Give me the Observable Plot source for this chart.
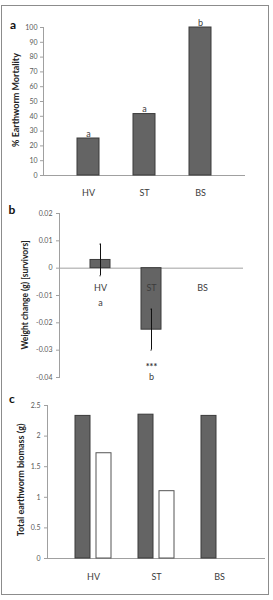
<!DOCTYPE html>
<html><head><meta charset="utf-8">
<script src="https://cdn.jsdelivr.net/npm/d3@7"></script>
<script src="https://cdn.jsdelivr.net/npm/@observablehq/plot@0.6"></script>
<style>
body{margin:0;background:#fff;font-family:Lato,"Open Sans",sans-serif;}
#wrap{position:relative;width:273px;height:600px;overflow:hidden;}
#box{position:absolute;left:1px;top:5px;width:266px;height:588px;border:1px solid #8c8c8c;}
.p{position:absolute;left:0;}
.p svg{overflow:visible;}
.lbl{position:absolute;font-weight:bold;font-size:12px;color:#111;transform:translate(-50%,-50%);line-height:1;}
.ttl{position:absolute;font-weight:bold;font-size:9px;color:#222;white-space:nowrap;transform:translate(-50%,-50%) rotate(-90deg);line-height:1;}
</style></head><body><div id="wrap"><div id="box"></div>
<div class="p" id="pa" style="top:10px"></div>
<div class="p" id="pb" style="top:200px"></div>
<div class="p" id="pc" style="top:385px"></div>
<div class="lbl" style="left:13px;top:25px">a</div>
<div class="lbl" style="left:12px;top:210px">b</div>
<div class="lbl" style="left:12px;top:399px">c</div>
<div class="ttl" id="ta" style="left:15px;top:100px"></div>
<div class="ttl" id="tb" style="left:25px;top:295px;font-size:8.5px"></div>
<div class="ttl" id="tc" style="left:20px;top:480px"></div>
</div>
<script>
const categories = ["HV", "ST", "BS"];
// panel a
const mortality = [25, 41.5, 100];
const mortalityLetters = ["a", "a", "b"];
const mortalityTicks = [0, 10, 20, 30, 40, 50, 60, 70, 80, 90, 100];
const mortalityTitle = "% Earthworm Mortality";
// panel b
const weightChange = [0.003, -0.0225, null];
const weightErrLow = [-0.0028, -0.030, null];
const weightErrHigh = [0.0088, -0.015, null];
const weightLetters = ["a", "b", ""];
const weightStars = ["", "***", ""];
const weightTicks = [0.02, 0.01, 0, -0.01, -0.02, -0.03, -0.04];
const weightTitle = "Weight change (g) [survivors]";
// panel c
const biomassInitial = [2.33, 2.35, 2.33];
const biomassFinal = [1.72, 1.1, null];
const biomassTicks = [0, 0.5, 1, 1.5, 2, 2.5];
const biomassTitle = "Total earthworm biomass (g)";

document.getElementById("ta").textContent = mortalityTitle;
document.getElementById("tb").textContent = weightTitle;
document.getElementById("tc").textContent = biomassTitle;

const DARK = "#646464", EDGE = "#3a3a3a", TICKTXT = "#595959", AXIS = "#a0a0a0", CAT = "#3c3c3c";
const FONT = "Lato, 'Open Sans', sans-serif";

function vAxisLine() { return Plot.frame({anchor: "left", stroke: AXIS}); }

// ---------- Panel a ----------
const dA = categories.map((c, i) => ({cat: c, v: mortality[i], letter: mortalityLetters[i]}));
const pa = Plot.plot({
  width: 273, height: 190, marginTop: 17, marginBottom: 25, marginLeft: 43, marginRight: 28,
  style: {fontFamily: FONT, background: "transparent"},
  x: {domain: categories, padding: 0.6, axis: null},
  y: {domain: [0, 100], axis: null},
  marks: [
    Plot.axisY({ticks: mortalityTicks, tickSize: 3, tickPadding: 3, fontSize: 7, stroke: AXIS, fill: TICKTXT, label: null}),
    vAxisLine(),
    Plot.ruleY([0], {stroke: AXIS}),
    Plot.barY(dA, {x: "cat", y: "v", fill: DARK, stroke: EDGE, strokeWidth: 1}),
    Plot.text(dA, {x: "cat", y: "v", text: "letter", lineAnchor: "bottom", dy: -2, fontSize: 9, fill: CAT}),
    Plot.text(dA, {x: "cat", y: () => 0, text: "cat", dy: 18, fontSize: 9, fill: CAT})
  ]
});
document.getElementById("pa").appendChild(pa);

// ---------- Panel b ----------
const dB = categories.map((c, i) => ({cat: c, v: weightChange[i], lo: weightErrLow[i], hi: weightErrHigh[i],
  letter: weightLetters[i], stars: weightStars[i],
  base: weightErrLow[i] == null ? 0 : Math.min(0, weightErrLow[i])}));
const dBv = dB.filter(d => d.v != null);
const pb = Plot.plot({
  width: 273, height: 185, marginTop: 13, marginBottom: 8, marginLeft: 59, marginRight: 30,
  style: {fontFamily: FONT, background: "transparent"},
  x: {domain: categories, padding: 0.6, axis: null},
  y: {domain: [-0.04, 0.02], axis: null},
  marks: [
    Plot.axisY({ticks: weightTicks, tickSize: 3, tickPadding: 4, fontSize: 7, stroke: AXIS, fill: TICKTXT,
      tickFormat: d => d === 0 ? "0" : d.toFixed(2), label: null}),
    vAxisLine(),
    Plot.ruleY([0], {stroke: AXIS}),
    Plot.barY(dBv, {x: "cat", y: "v", fill: DARK, stroke: EDGE, strokeWidth: 1}),
    Plot.ruleX(dBv, {x: "cat", y1: "lo", y2: "hi", stroke: "#111", strokeWidth: 1}),
    Plot.tickY(dBv, {x: "cat", y: "lo", stroke: "#111", insetLeft: 9.5, insetRight: 9.5}),
    Plot.tickY(dBv, {x: "cat", y: "hi", stroke: "#111", insetLeft: 9.5, insetRight: 9.5}),
    Plot.text(dB, {x: "cat", y: () => 0, text: "cat", dy: 20, fontSize: 9, fill: CAT}),
    Plot.text(dBv, {x: "cat", y: "base", text: "letter", dy: 27, fontSize: 9, fill: CAT}),
    Plot.text(dBv, {x: "cat", y: "base", text: "stars", dy: 17, fontSize: 9, fontWeight: "bold", fill: "#333"})
  ]
});
document.getElementById("pb").appendChild(pb);

// ---------- Panel c ----------
const dC = categories.map((c, i) => ({cat: c, init: biomassInitial[i], fin: biomassFinal[i]}));
const pc = Plot.plot({
  width: 273, height: 205, marginTop: 20, marginBottom: 32, marginLeft: 47, marginRight: 8,
  style: {fontFamily: FONT, background: "transparent"},
  x: {domain: categories, padding: 0.422, axis: null},
  y: {domain: [0, 2.5], axis: null},
  marks: [
    Plot.axisY({ticks: biomassTicks, tickSize: 3, tickPadding: 4, fontSize: 7, stroke: AXIS, fill: TICKTXT,
      tickFormat: d => String(d), label: null}),
    vAxisLine(),
    Plot.ruleY([0], {stroke: AXIS}),
    Plot.barY(dC, {x: "cat", y: "init", fill: DARK, stroke: EDGE, strokeWidth: 1, insetRight: 21}),
    Plot.barY(dC.filter(d => d.fin != null), {x: "cat", y: "fin", fill: "#fff", stroke: "#555", strokeWidth: 1, insetLeft: 21}),
    Plot.text(dC, {x: "cat", y: () => 0, text: "cat", dy: 19, fontSize: 9, fill: CAT})
  ]
});
document.getElementById("pc").appendChild(pc);
</script>
</body></html>
